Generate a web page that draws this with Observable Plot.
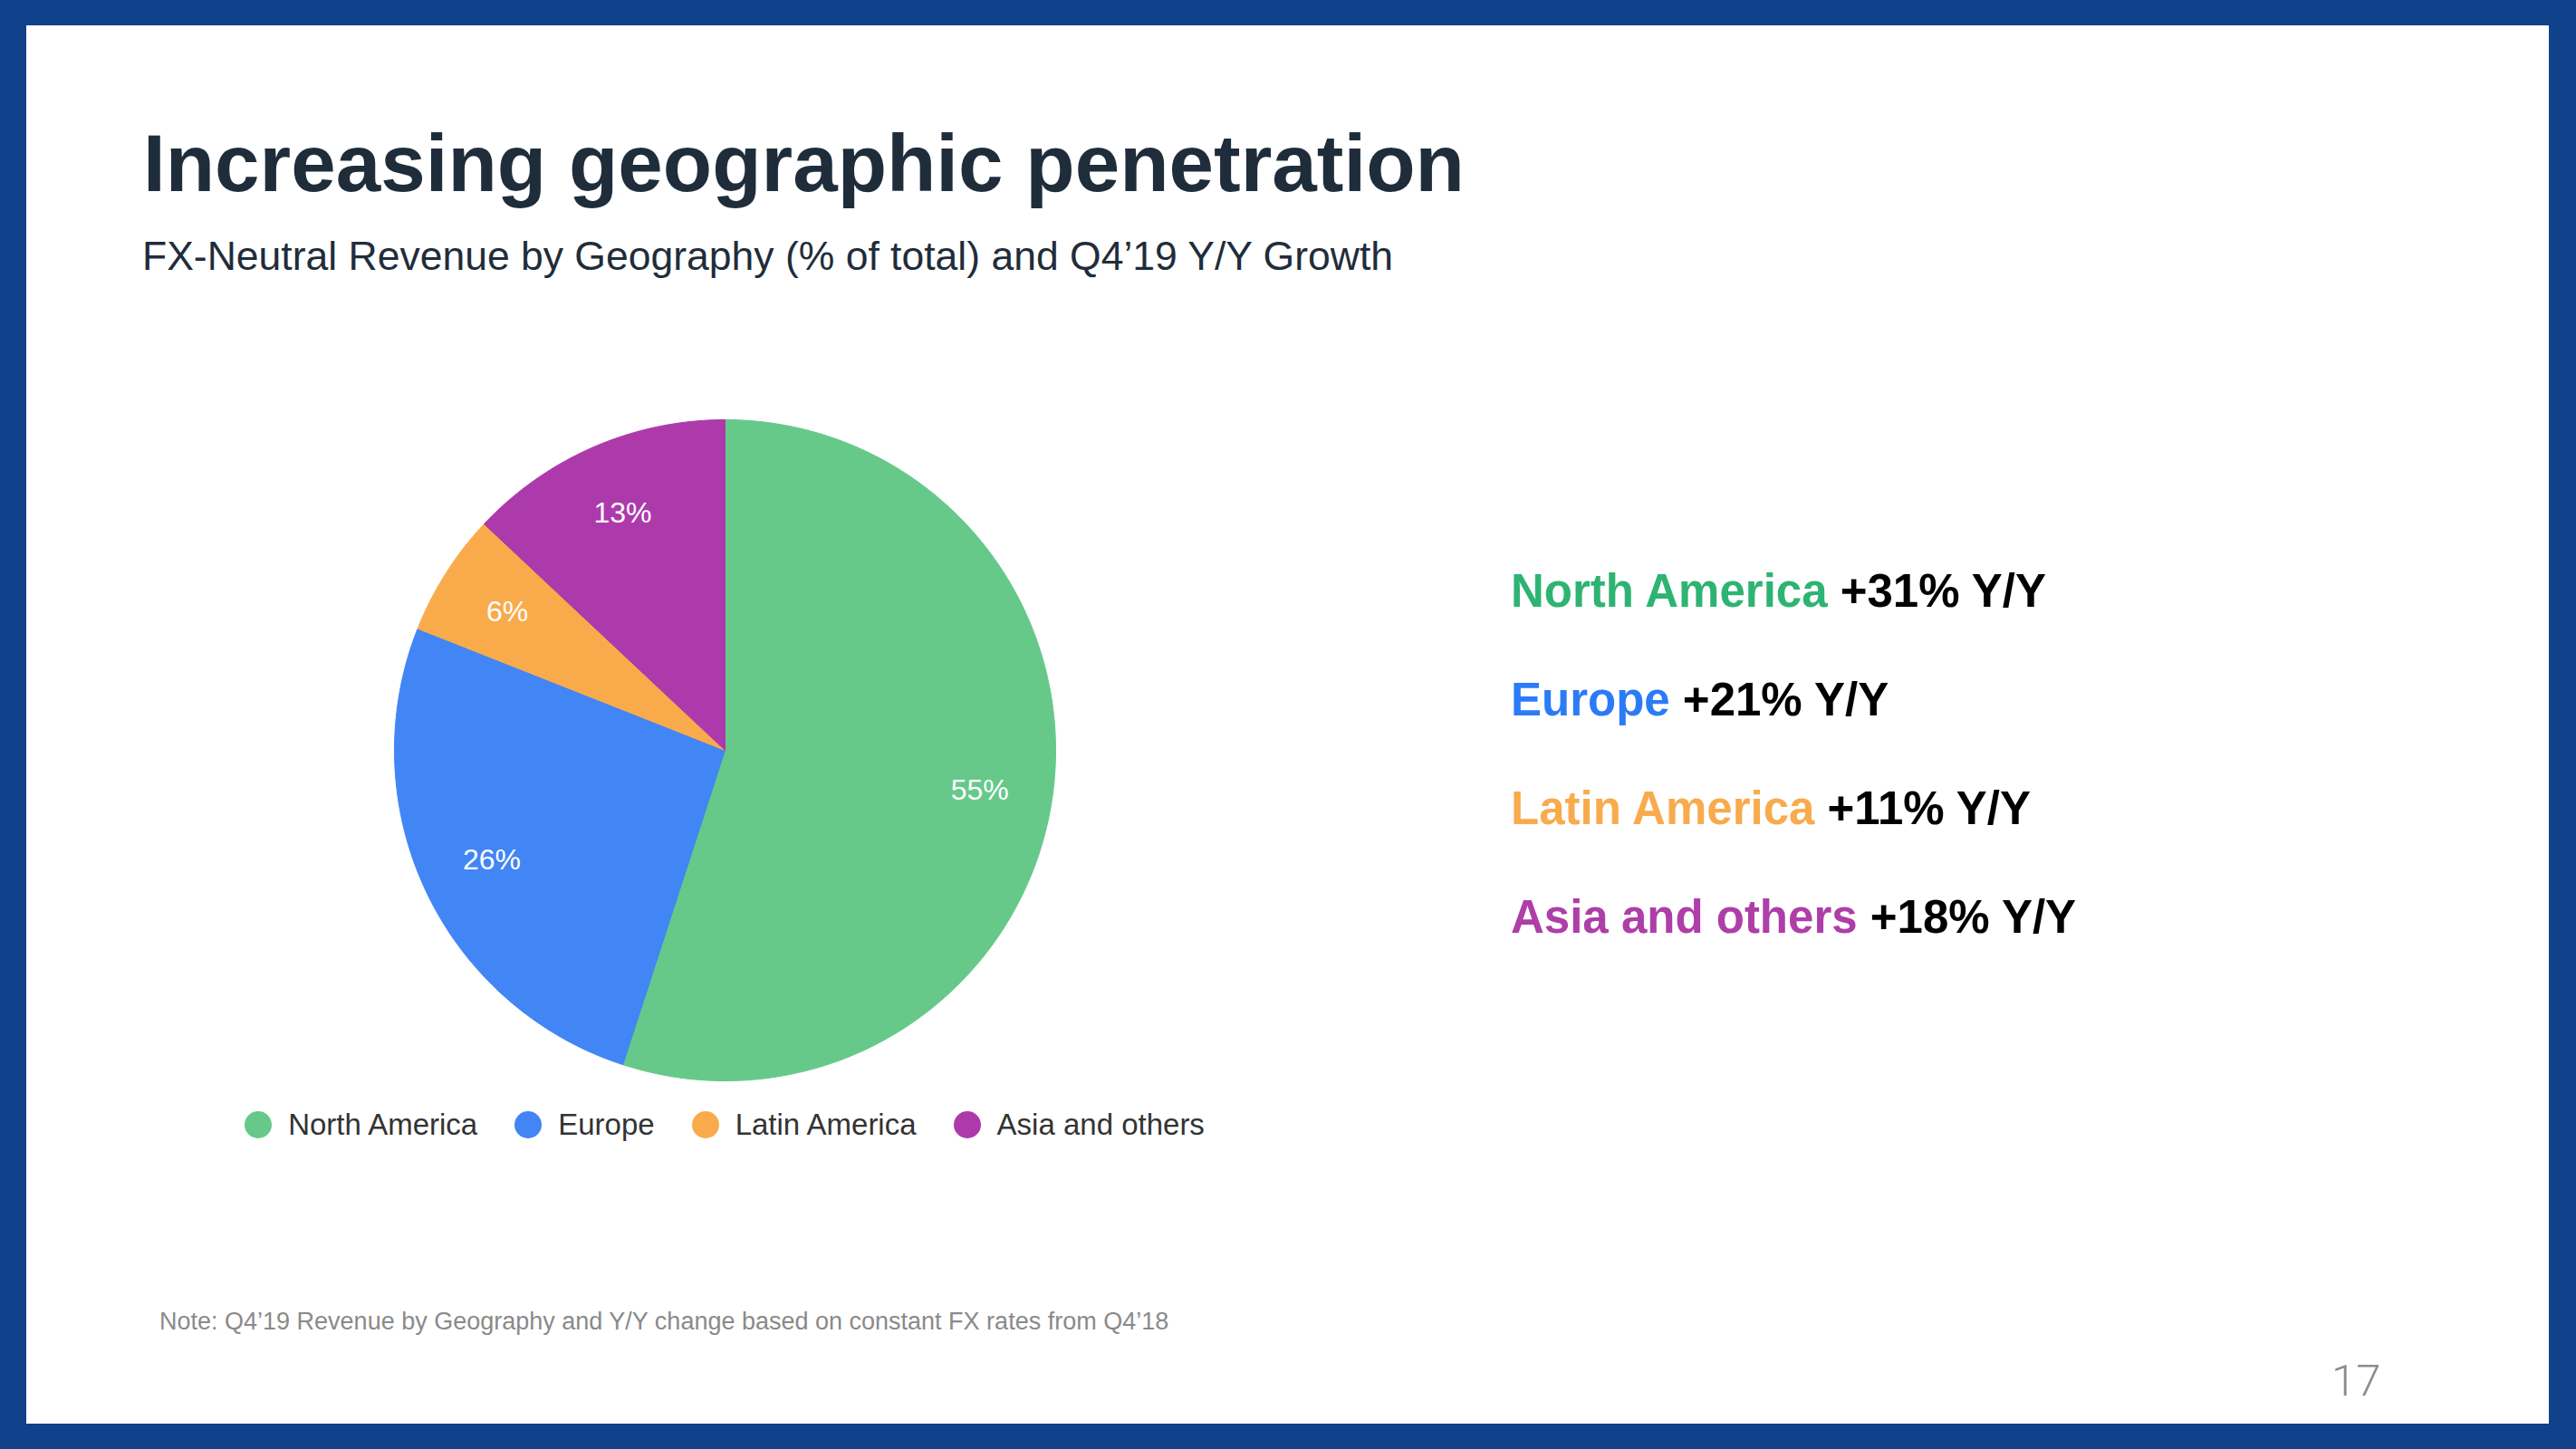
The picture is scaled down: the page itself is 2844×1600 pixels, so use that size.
<!DOCTYPE html>
<html>
<head>
<meta charset="utf-8">
<script src="https://cdn.jsdelivr.net/npm/d3@7"></script>
<script src="https://cdn.jsdelivr.net/npm/@observablehq/plot@0.6"></script>
<style>
html,body{margin:0;padding:0;}
body{width:2844px;height:1600px;background:#10418b;position:relative;overflow:hidden;font-family:"Liberation Sans",Arial,Helvetica,sans-serif;}
#page{position:absolute;left:29px;top:28px;width:2785px;height:1544px;background:#ffffff;}
.t{position:absolute;white-space:nowrap;line-height:1;}
#title{left:158px;top:136px;font-size:89px;font-weight:bold;color:#1f2d3b;}
#subtitle{left:157px;top:261px;font-size:44.5px;color:#1f2d3b;}
#pie{position:absolute;left:400px;top:428px;}
#legend{position:absolute;left:0;width:1600px;top:1222px;height:40px;display:flex;justify-content:center;align-items:center;gap:41px;font-size:33px;color:#333;}
#legend .item{display:flex;align-items:center;}
#legend .dot{width:30px;height:30px;border-radius:50%;margin-right:18px;}
#growth .t{left:1668px;font-size:51px;font-weight:bold;color:#000;}
#note{left:176px;top:1446px;font-size:27px;color:#8a8a8a;}
#pnum{left:2574px;top:1500px;font-size:49px;font-weight:300;color:#8c8c8c;font-family:"Roboto","Liberation Sans",sans-serif;}
</style>
</head>
<body>
<div id="page"></div>
<div class="t" id="title">Increasing geographic penetration</div>
<div class="t" id="subtitle">FX-Neutral Revenue by Geography (% of total) and Q4’19 Y/Y Growth</div>
<div id="pie"></div>
<div id="legend"></div>
<div id="growth"></div>
<div class="t" id="note">Note: Q4’19 Revenue by Geography and Y/Y change based on constant FX rates from Q4’18</div>
<div class="t" id="pnum">17</div>
<script>
// ---- data ----
const regions = ["North America", "Europe", "Latin America", "Asia and others"];
const shares = [55, 26, 6, 13];          // % of total FX-neutral revenue
const growth = [31, 21, 11, 18];         // Q4'19 Y/Y growth, %
const sliceColors = ["#66c98a", "#4285f4", "#f9ab4b", "#ad3aaa"];
const textColors = ["#2eb472", "#2c7bf6", "#f8ab4d", "#ae3ea8"];

// ---- pie geometry derived from the data ----
const rows = regions.map((r, i) => ({region: r, share: shares[i]}));
const arcs = d3.pie().sort(null).value(d => d.share)(rows);
const pts = [];
for (const a of arcs) {
  const n = Math.max(2, Math.ceil((a.endAngle - a.startAngle) / (2 * Math.PI) * 360));
  pts.push({region: a.data.region, x: 0, y: 0});
  for (let k = 0; k <= n; k++) {
    const t = a.startAngle + (a.endAngle - a.startAngle) * k / n;
    pts.push({region: a.data.region, x: Math.sin(t), y: Math.cos(t)});
  }
  pts.push({region: a.data.region, x: 0, y: 0});
}
const labels = arcs.map(a => {
  const m = (a.startAngle + a.endAngle) / 2;
  return {region: a.data.region, share: a.data.share, x: 0.78 * Math.sin(m), y: 0.78 * Math.cos(m)};
});

const R = 365, W = 800;
const k = (W / 2) / R;
const chart = Plot.plot({
  width: W, height: W,
  margin: 0,
  style: {background: "transparent", fontFamily: "Liberation Sans, Arial, sans-serif"},
  x: {domain: [-k, k], axis: null},
  y: {domain: [-k, k], axis: null},
  color: {domain: regions, range: sliceColors},
  marks: [
    Plot.line(pts, {x: "x", y: "y", z: "region", fill: "region", stroke: "region", strokeWidth: 1, curve: "linear"}),
    Plot.text(labels, {x: "x", y: "y", text: d => d.share + "%", fill: "white", fontSize: 32})
  ]
});
document.getElementById("pie").appendChild(chart);

// ---- legend ----
const legend = document.getElementById("legend");
regions.forEach((r, i) => {
  const it = document.createElement("div");
  it.className = "item";
  it.innerHTML = `<span class="dot" style="background:${sliceColors[i]}"></span><span>${r}</span>`;
  legend.appendChild(it);
});

// ---- growth list ----
const g = document.getElementById("growth");
regions.forEach((r, i) => {
  const d = document.createElement("div");
  d.className = "t";
  d.style.top = (627 + 120 * i) + "px";
  d.innerHTML = `<span style="color:${textColors[i]}">${r}</span> +${growth[i]}% Y/Y`;
  g.appendChild(d);
});
</script>
</body>
</html>
